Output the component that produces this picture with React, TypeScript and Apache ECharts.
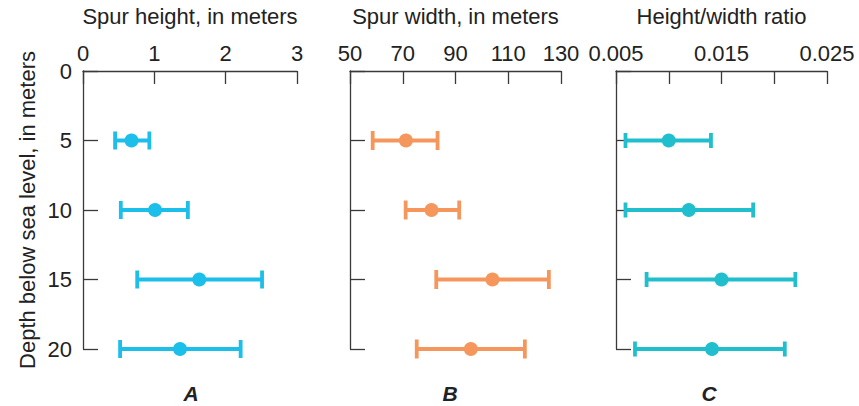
import React, { useEffect, useRef } from "react";
import * as echarts from "echarts";

const depths = [5, 10, 15, 20];
const depthTicks = [0, 5, 10, 15, 20];

const heightMean = [0.68, 1.01, 1.63, 1.36];
const heightLow = [0.45, 0.53, 0.76, 0.52];
const heightHigh = [0.93, 1.47, 2.51, 2.21];

const widthMean = [71.2, 80.9, 104, 95.8];
const widthLow = [58.6, 71.1, 82.7, 75.3];
const widthHigh = [83.2, 91.4, 125.4, 116.3];

const ratioMean = [0.01, 0.0119, 0.015, 0.0141];
const ratioLow = [0.0059, 0.0059, 0.0079, 0.0068];
const ratioHigh = [0.014, 0.018, 0.022, 0.021];

const panelTitles = ["Spur height, in meters", "Spur width, in meters", "Height/width ratio"];
const panelLetters = ["A", "B", "C"];
const yTitle = "Depth below sea level, in meters";

const FONT = "'Liberation Sans', Arial, Helvetica, sans-serif";
const AXIS = "#3a3a3a";
const TEXT = "#222";

export default function App() {
  const ref = useRef<HTMLDivElement>(null);
  useEffect(() => {
    document.body.style.margin = "0";
    const chart = echarts.init(ref.current!, undefined, { renderer: "svg" });

    const panels = [
      { mean: heightMean, low: heightLow, high: heightHigh, color: "#1CBEEA", cap: 9, min: 0, max: 3, interval: 1, left: 83, width: 214, fmt: (v: number) => String(v) },
      { mean: widthMean, low: widthLow, high: widthHigh, color: "#F5975C", cap: 9.5, min: 50, max: 130, interval: 20, left: 350, width: 211, fmt: (v: number) => String(v) },
      { mean: ratioMean, low: ratioLow, high: ratioHigh, color: "#21BFCE", cap: 7.5, min: 0.005, max: 0.025, interval: 0.005, left: 616, width: 211, fmt: (v: number, i: number) => (i % 2 === 0 ? v.toFixed(3) : "") },
    ];

    const grid = panels.map((p) => ({ left: p.left, top: 63, width: p.width, height: 286 }));
    const xAxis = panels.map((p, i) => ({
      type: "value",
      gridIndex: i,
      position: "top",
      min: p.min,
      max: p.max,
      interval: p.interval,
      name: panelTitles[i],
      nameLocation: "middle",
      nameGap: 44,
      nameTextStyle: { fontSize: 22, color: TEXT, fontFamily: FONT },
      axisLine: { show: true, lineStyle: { color: AXIS, width: 1.3 } },
      axisTick: { show: true, inside: true, length: 13, lineStyle: { color: AXIS, width: 1.3 } },
      axisLabel: { show: true, margin: 7, fontSize: 22, color: TEXT, fontFamily: FONT, formatter: p.fmt },
      splitLine: { show: false },
    }));
    const yAxis = panels.map((p, i) => ({
      type: "value",
      gridIndex: i,
      inverse: true,
      min: 0,
      max: 20,
      interval: 5,
      name: i === 0 ? yTitle : "",
      nameLocation: "middle",
      nameRotate: 90,
      nameGap: 45,
      nameTextStyle: { fontSize: 22, color: TEXT, fontFamily: FONT },
      axisLine: { show: true, lineStyle: { color: AXIS, width: 1.3 } },
      axisTick: { show: true, inside: true, length: 15, lineStyle: { color: AXIS, width: 1.3 } },
      axisLabel: { show: i === 0, margin: 11, fontSize: 22, color: TEXT, fontFamily: FONT, formatter: (v: number) => (depthTicks.includes(v) ? String(v) : "") },
      splitLine: { show: false },
    }));

    const series: any[] = [];
    panels.forEach((p, i) => {
      series.push({
        type: "custom",
        xAxisIndex: i,
        yAxisIndex: i,
        data: depths.map((d, k) => [d, p.low[k], p.high[k]]),
        encode: { x: [1, 2], y: 0 },
        renderItem: (params: any, api: any) => {
          const y = api.value(0);
          const a = api.coord([api.value(1), y]);
          const b = api.coord([api.value(2), y]);
          const st = { stroke: p.color, lineWidth: 3.8 };
          const h = p.cap;
          return {
            type: "group",
            children: [
              { type: "line", shape: { x1: a[0], y1: a[1], x2: b[0], y2: b[1] }, style: st },
              { type: "line", shape: { x1: a[0], y1: a[1] - h, x2: a[0], y2: a[1] + h }, style: st },
              { type: "line", shape: { x1: b[0], y1: b[1] - h, x2: b[0], y2: b[1] + h }, style: st },
            ],
          };
        },
        z: 2,
      });
      series.push({
        type: "scatter",
        xAxisIndex: i,
        yAxisIndex: i,
        symbol: "circle",
        symbolSize: 14,
        itemStyle: { color: p.color, opacity: 1 },
        data: depths.map((d, k) => [p.mean[k], d]),
        z: 3,
      });
    });

    const letterX = [191, 450, 709];
    chart.setOption({
      animation: false,
      textStyle: { fontFamily: FONT },
      grid,
      xAxis,
      yAxis,
      series,
      graphic: panelLetters.map((l, i) => ({
        type: "text",
        x: letterX[i],
        y: 393,
        style: { text: l, fontSize: 21, fontWeight: "bold", fontStyle: "italic", fill: TEXT, fontFamily: FONT, align: "center", verticalAlign: "middle" },
      })),
    });
    return () => chart.dispose();
  }, []);
  return <div ref={ref} style={{ width: 859, height: 406 }} />;
}
